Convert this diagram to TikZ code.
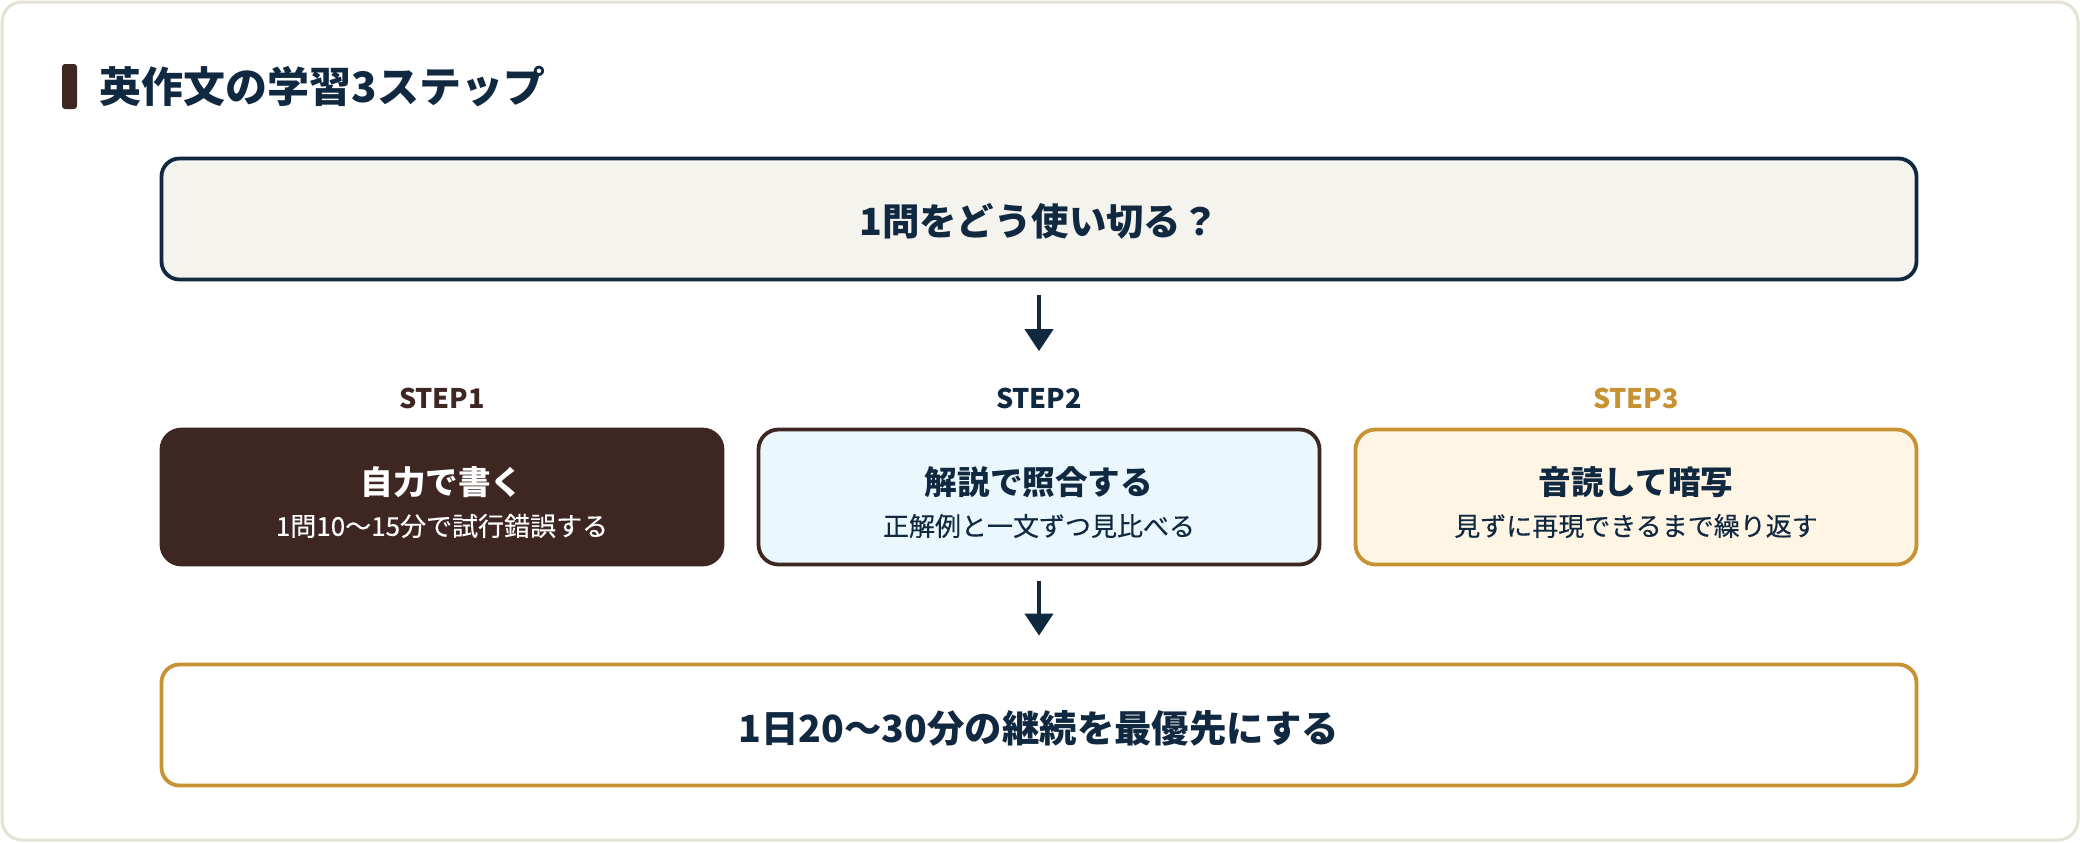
\documentclass[tikz,border=0pt]{standalone}
\usepackage{fontspec}
\setmainfont{Noto Sans CJK JP}
\newfontfamily\medfont{Noto Sans CJK JP}[FakeBold=0.35]
\usetikzlibrary{arrows.meta, positioning}
\definecolor{navy1}{RGB}{16, 40, 64}
\definecolor{brown1}{RGB}{62, 39, 35}
\definecolor{gold1}{RGB}{198, 146, 50}
\definecolor{paperbg}{RGB}{245, 243, 238}
\definecolor{skybg}{RGB}{234, 247, 252}
\definecolor{creambg}{RGB}{255, 245, 229}
\definecolor{cardline}{RGB}{230, 226, 214}

\tikzset{
  widebox/.style={line width=1.9pt, rounded corners=9pt, minimum width=877.5pt, minimum height=60.5pt, inner sep=0pt},
  stepbox/.style={line width=1.9pt, rounded corners=10pt, minimum width=280.5pt, minimum height=67.5pt, inner sep=0pt},
  bigtxt/.style={inner sep=0pt, text=navy1, font=\bfseries\fontsize{18.7}{22}\selectfont},
  steptag/.style={inner sep=0pt, font=\bfseries\fontsize{13.5}{16}\selectfont},
  maintxt/.style={inner sep=0pt, font=\bfseries\fontsize{16.3}{19}\selectfont},
  subtxt/.style={inner sep=0pt, font=\medfont\fontsize{13}{16}\selectfont},
  flow/.style={-{Triangle[length=11pt, width=14pt]}, line width=2pt, navy1}
}

\begin{document}
\begin{tikzpicture}[x=0.5pt, y=-0.5pt]
  \useasboundingbox (0, 0) rectangle (2080, 842);
  \fill[white] (0, 0) rectangle (2080, 842);

  % Card
  \draw[cardline, line width=1.5pt, fill=white, rounded corners=10pt] (2, 2) rectangle (2078, 840);

  % Title
  \node[fill=brown1, rounded corners=1.5pt, minimum width=7.5pt, minimum height=22.5pt, inner sep=0pt] (bar) at (69.5, 86.5) {};
  \node[right=11pt of bar, inner sep=0pt, text=navy1, font=\bfseries\fontsize{21}{25}\selectfont] (title) {英作文の学習3ステップ};

  % Question
  \node[widebox, draw=navy1, fill=paperbg] (quest) at (1039, 219) {};
  \node[bigtxt] (questtxt) at (1039, 221) {1問をどう使い切る？};

  % Step labels
  \node[steptag, text=brown1] (tag1) at (442, 398) {STEP1};
  \node[steptag, text=navy1] (tag2) at (1039, 398) {STEP2};
  \node[steptag, text=gold1] (tag3) at (1636, 398) {STEP3};

  % Step 1
  \node[stepbox, draw=brown1, fill=brown1] (step1) at (442, 497) {};
  \node[maintxt, text=white] (main1) at (442, 482) {自力で書く};
  \node[subtxt, text=white] (sub1) at (442, 526) {1問10〜15分で試行錯誤する};

  % Step 2
  \node[stepbox, draw=brown1, fill=skybg] (step2) at (1039, 497) {};
  \node[maintxt, text=navy1] (main2) at (1039, 482) {解説で照合する};
  \node[subtxt, text=navy1] (sub2) at (1039, 526) {正解例と一文ずつ見比べる};

  % Step 3
  \node[stepbox, draw=gold1, fill=creambg] (step3) at (1636, 497) {};
  \node[maintxt, text=navy1] (main3) at (1636, 482) {音読して暗写};
  \node[subtxt, text=navy1] (sub3) at (1636, 526) {見ずに再現できるまで繰り返す};

  % Goal
  \node[widebox, draw=gold1, fill=white] (goal) at (1039, 725) {};
  \node[bigtxt] (goaltxt) at (1039, 728) {1日20〜30分の継続を最優先にする};

  % Arrows
  \draw[flow, shorten <=7pt, shorten >=18pt] (quest.south) -- (tag2.north);
  \draw[flow, shorten <=7.5pt, shorten >=13.5pt] (step2.south) -- (goal.north);
\end{tikzpicture}
\end{document}
